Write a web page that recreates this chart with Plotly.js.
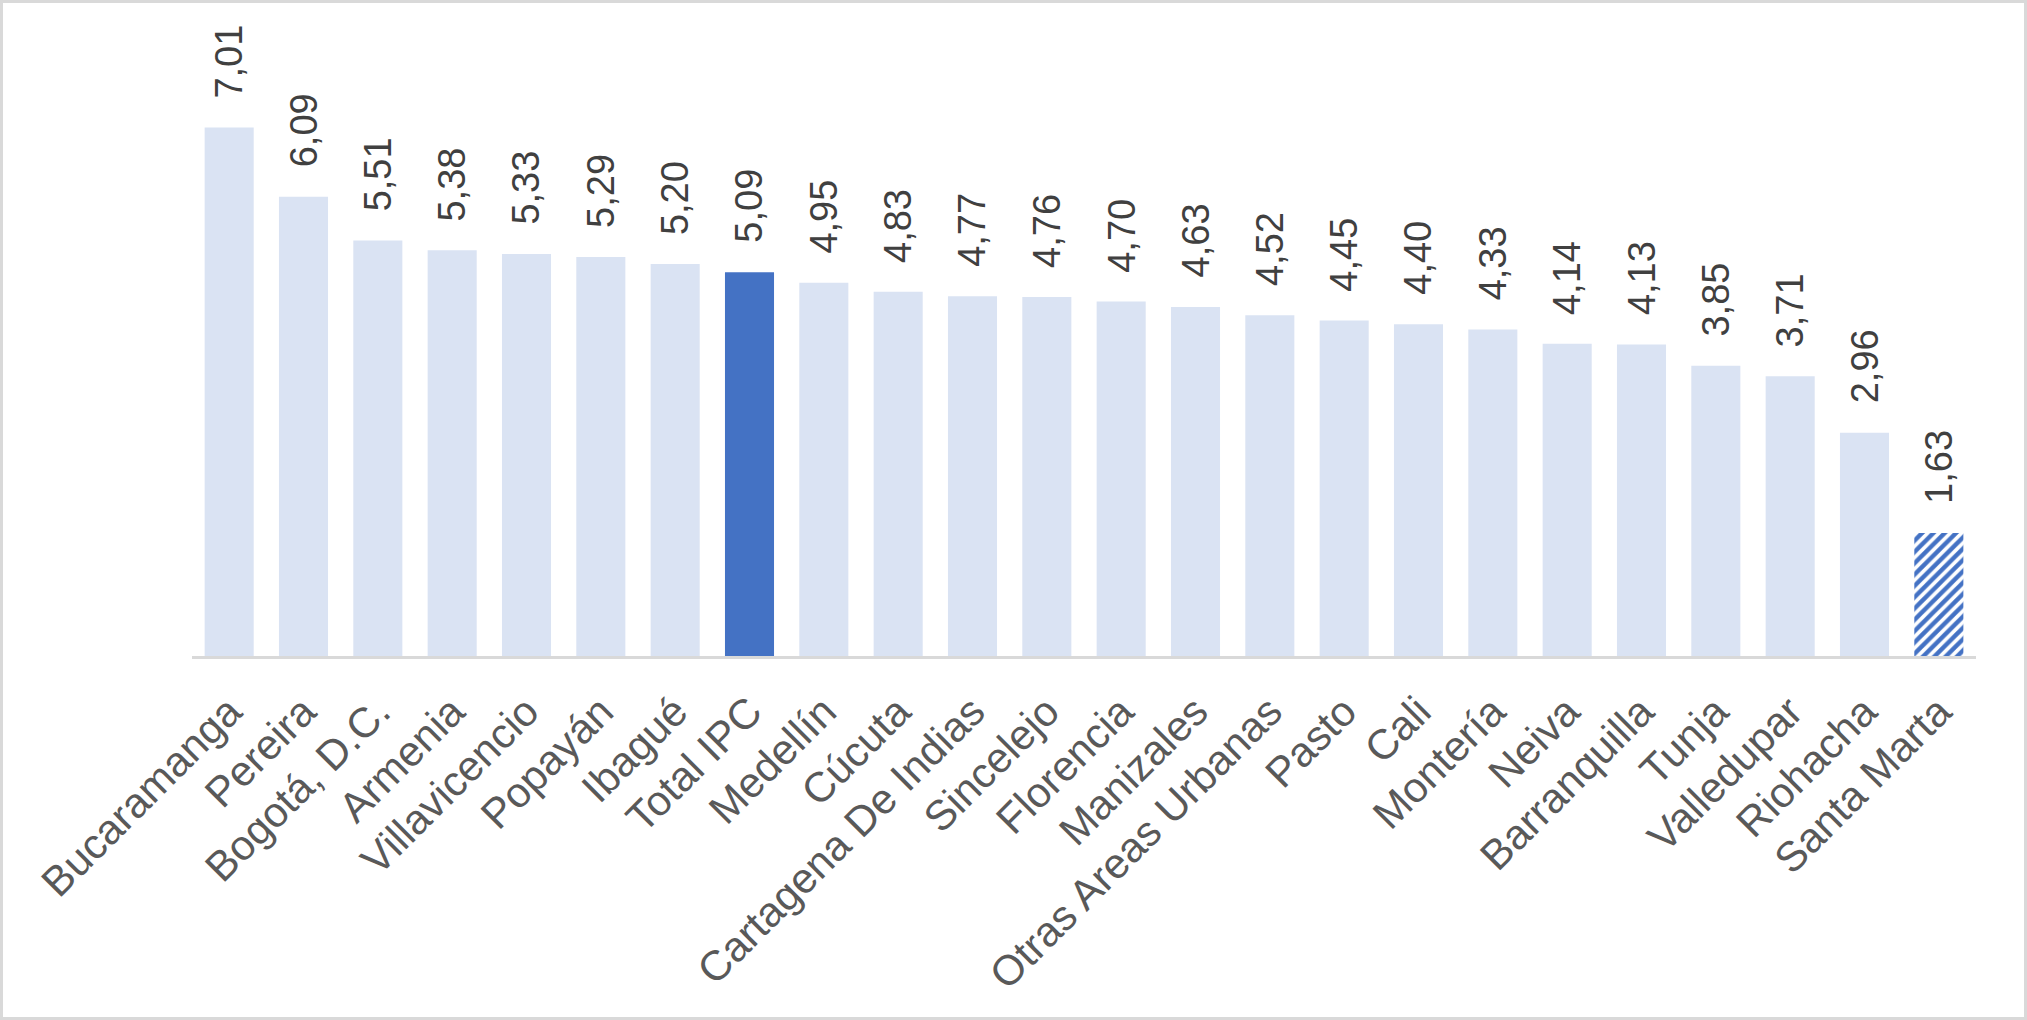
<!DOCTYPE html>
<html>
<head>
<meta charset="utf-8">
<script src="https://cdn.plot.ly/plotly-3.0.1.min.js"></script>
<style>
html,body{margin:0;padding:0;background:#fff;}
#wrap{width:2027px;height:1020px;box-sizing:border-box;border:3px solid #d9d9d9;background:#fff;}
#chart{width:2021px;height:1014px;}
</style>
</head>
<body>
<div id="wrap"><div id="chart"></div></div>
<script>
const categories = ["Bucaramanga","Pereira","Bogotá, D.C.","Armenia","Villavicencio","Popayán","Ibagué","Total IPC","Medellín","Cúcuta","Cartagena De Indias","Sincelejo","Florencia","Manizales","Otras Areas Urbanas","Pasto","Cali","Montería","Neiva","Barranquilla","Tunja","Valledupar","Riohacha","Santa Marta"];
const values = [7.01,6.09,5.51,5.38,5.33,5.29,5.20,5.09,4.95,4.83,4.77,4.76,4.70,4.63,4.52,4.45,4.40,4.33,4.14,4.13,3.85,3.71,2.96,1.63];
const totalLabel = "Total IPC";
const patternLabel = "Santa Marta";

const fmt = v => v.toFixed(2).replace('.', ',');
const FONT = 'Liberation Sans, Arial, sans-serif';

const solidIdx = categories.map((c, i) => i).filter(i => categories[i] !== patternLabel);
const patIdx = categories.map((c, i) => i).filter(i => categories[i] === patternLabel);

const traceSolid = {
  type: 'bar',
  x: solidIdx.map(i => categories[i]),
  y: solidIdx.map(i => values[i]),
  marker: {
    color: solidIdx.map(i => categories[i] === totalLabel ? '#4472C4' : '#DAE3F3'),
    line: {width: 0}
  }
};

const tracePattern = {
  type: 'bar',
  x: patIdx.map(i => categories[i]),
  y: patIdx.map(i => values[i]),
  marker: {
    color: '#ffffff',
    line: {width: 0},
    pattern: {shape: '/', fgcolor: '#4472C4', bgcolor: '#ffffff', size: 8, solidity: 0.55}
  }
};

const annotations = categories.map((c, i) => ({
  x: c, y: values[i], xref: 'x', yref: 'y',
  text: fmt(values[i]), showarrow: false,
  textangle: -90, xanchor: 'center', yanchor: 'bottom', yshift: 27,
  font: {family: FONT, size: 38, color: '#404040'}
}));

const layout = {
  width: 2021, height: 1014,
  margin: {l: 189, r: 48, t: 20, b: 361},
  paper_bgcolor: '#ffffff', plot_bgcolor: '#ffffff',
  barmode: 'overlay',
  bargap: 0.34,
  showlegend: false,
  font: {family: FONT, color: '#595959'},
  xaxis: {
    type: 'category',
    categoryorder: 'array', categoryarray: categories,
    showline: true, linecolor: '#d9d9d9', linewidth: 3,
    ticks: '', showgrid: false, zeroline: false,
    tickangle: -45,
    ticklabelstandoff: 11,
    tickfont: {family: FONT, size: 42, color: '#595959'}
  },
  yaxis: {
    range: [0, 8.395], visible: false, showgrid: false, zeroline: false, fixedrange: true
  },
  annotations: annotations
};

Plotly.newPlot('chart', [traceSolid, tracePattern], layout, {displayModeBar: false, staticPlot: true});
</script>
</body>
</html>
